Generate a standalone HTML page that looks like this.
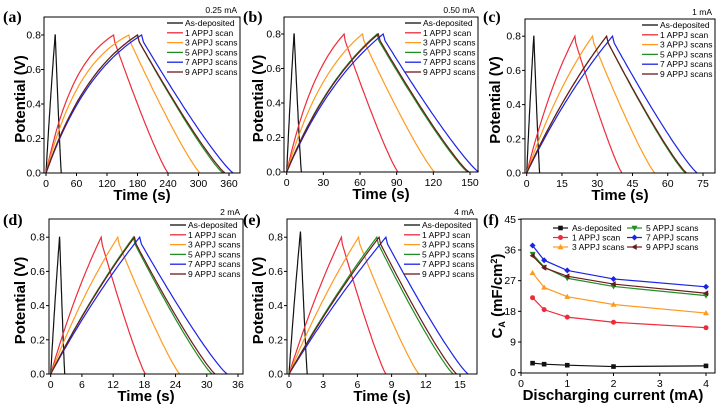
<!DOCTYPE html>
<html><head><meta charset="utf-8">
<style>
html,body{margin:0;padding:0;background:#fff;}
svg{display:block;font-family:"Liberation Sans",Arial,sans-serif;}
.tick{font-size:10.5px;fill:#000;}
.ttl{font-size:15px;font-weight:bold;fill:#000;}
.leg{font-size:8.5px;fill:#000;}
.plab{font-family:"Liberation Serif",serif;font-size:16px;font-weight:bold;}
</style></head>
<body>
<svg id="fig" width="727" height="412" viewBox="0 0 727 412" xmlns="http://www.w3.org/2000/svg"></svg>
<script>
// ---- data ----
const seriesNames = ["As-deposited","1 APPJ scan","3 APPJ scans","5 APPJ scans","7 APPJ scans","9 APPJ scans"];
const seriesColors = ["#111111","#ee2b3b","#ff9a1f","#1f8f24","#1c22e6","#6e1a1a"];
const currentLabels = ["0.25 mA","0.50 mA","1 mA","2 mA","4 mA"];
// charge end times (peak) per panel per series
const peakA = [18,133,163,180,188,180];
const endA  = [30,240,303,348,368,352];
const peakB = [6,47,62,74,79,75];
const endB  = [12,91,121,148,157,149];
const peakC = [3,20.5,28,34,36.5,34];
const endC  = [5.5,40.5,54.5,67.5,72.5,68];
const peakD = [1.7,9.7,12.9,15.9,17.1,16.1];
const endD  = [2.7,18.2,24.8,31,33.9,31.6];
const peakE = [1.0,4.6,6.1,7.7,8.5,7.9];
const endE  = [1.6,8.5,11.4,14.4,15.7,14.7];
const peakV = [0.8,0.8,0.8,0.8,0.8,0.8];
const peakVE = [0.83,0.8,0.8,0.8,0.8,0.8];
const xTicksA = [0,60,120,180,240,300,360];
const xTicksB = [0,30,60,90,120,150];
const xTicksC = [0,15,30,45,60,75];
const xTicksD = [0,6,12,18,24,30,36];
const xTicksE = [0,3,6,9,12,15];
const yTicksV = [0.0,0.2,0.4,0.6,0.8];
// panel f
const currents = [0.25,0.5,1,2,4];
const capAsDep = [2.8,2.5,2.2,1.8,2.0];
const cap1 = [22,18.5,16.3,14.8,13.2];
const cap3 = [29.3,25,22.3,20,17.5];
const cap5 = [34.8,31,27.7,25.3,22.6];
const cap7 = [37.3,33,30,27.5,25.2];
const cap9 = [34.3,30.8,28.3,26,23.3];
const xTicksF = [0,1,2,3,4];
const yTicksF = [0,9,18,27,36,45];

const NS="http://www.w3.org/2000/svg";
const svg=document.getElementById('fig');
function mk(tag,attrs,parent){const e=document.createElementNS(NS,tag);for(const k in attrs)e.setAttribute(k,attrs[k]);(parent||svg).appendChild(e);return e;}

const panels=[
 {lab:"(a)",cur:0,peak:peakA,end:endA,pv:peakV,xt:xTicksA,L:44,T:17,R:240,B:173,x0:46,sx:183/360,y0:173,sy:172.5,k:2.0,ytx:20,ylr:41,labx:3,laby:22},
 {lab:"(b)",cur:1,peak:peakB,end:endB,pv:peakV,xt:xTicksB,L:284,T:17,R:478,B:172,x0:286.7,sx:183.3/150,y0:172,sy:172.5,k:1.4,ytx:258,ylr:281,labx:243,laby:22},
 {lab:"(c)",cur:2,peak:peakC,end:endC,pv:peakV,xt:xTicksC,L:525,T:19,R:715,B:173,x0:526.7,sx:176.3/75,y0:173,sy:171,k:0.7,ytx:495,ylr:521,labx:483,laby:22},
 {lab:"(d)",cur:3,peak:peakD,end:endD,pv:peakV,xt:xTicksD,L:49,T:219,R:243,B:374,x0:50.7,sx:187.3/36,y0:374,sy:171,k:0.5,ytx:20,ylr:45,labx:3,laby:225},
 {lab:"(e)",cur:4,peak:peakE,end:endE,pv:peakVE,xt:xTicksE,L:287,T:219,R:477,B:374,x0:289,sx:171/15,y0:374,sy:171,k:0.4,ytx:258,ylr:283,labx:243,laby:225}
];

panels.forEach((p,pi)=>{
  const g=mk('g',{});
  
  
  const X=t=>p.x0+t*p.sx, Y=v=>p.y0-v*p.sy;
  p.peak.forEach((tc,si)=>{
    const td=p.end[si], vp=p.pv[si];
    const k = si===0?0.3:p.k*(si>=3?0.75:1);
    let pts=[];
    for(let i=0;i<=40;i++){const u=i/40;const f=(1-Math.exp(-k*u))/(1-Math.exp(-k));pts.push([tc*u,vp*f]);}
    const drop=si===0?0:0.04;
    pts.push([tc+(td-tc)*0.02,vp-drop]);
    for(let i=1;i<=40;i++){const s=0.02+0.98*i/40;pts.push([tc+(td-tc)*s,(vp-drop)*Math.pow((1-s)/0.98,1.15)]);}
    const path=mk('polyline',{points:pts.map(q=>X(q[0]).toFixed(1)+','+Y(q[1]).toFixed(1)).join(' '),fill:'none',stroke:seriesColors[si],'stroke-width':1.2},g);
    
    
  });
  const fr=mk('rect',{x:p.L,y:p.T,width:p.R-p.L,height:p.B-p.T,fill:'none',stroke:'#000','stroke-width':1},g);
  
  
  p.xt.forEach(t=>{
    mk('line',{x1:X(t),x2:X(t),y1:p.B,y2:p.B+3,stroke:'#000'},g);
    const tx=mk('text',{x:X(t),y:p.B+14,'text-anchor':'middle',class:'tick'},g);tx.textContent=t;
    
    
  });
  yTicksV.forEach(v=>{
    mk('line',{x1:p.L-3,x2:p.L,y1:Y(v),y2:Y(v),stroke:'#000'},g);
    const tx=mk('text',{x:p.ylr,y:Y(v)+3.5,'text-anchor':'end',class:'tick'},g);tx.textContent=v.toFixed(1);
    
    
  });
  const xt=mk('text',{x:(p.L+p.R)/2,y:p.B+27,'text-anchor':'middle',class:'ttl'},g);xt.textContent='Time (s)';
  
  
  const cy=(p.T+p.B)/2+4;
  const yt=mk('text',{x:p.ytx+5,y:cy,'text-anchor':'middle',class:'ttl',transform:`rotate(-90 ${p.ytx+5} ${cy})`},g);yt.textContent='Potential (V)';
  
  
  const pl=mk('text',{x:p.labx,y:p.laby,class:'plab'},g);pl.textContent=p.lab;
  
  
  const cl=mk('text',{x:p.R-3,y:p.T-4,'text-anchor':'end',class:'leg'},g);cl.textContent=currentLabels[p.cur];
  
  
  seriesNames.forEach((n,si)=>{
    const ly=p.T+6+si*9.8;
    const le=mk('g',{},g);
    
    
    mk('line',{x1:p.R-73,x2:p.R-57,y1:ly,y2:ly,stroke:seriesColors[si],'stroke-width':1.3},le);
    const t=mk('text',{x:p.R-55,y:ly+3,class:'leg'},le);t.textContent=n;
  });
});

// ---- panel f ----
(function(){
  const L=521,T=219,R=715,B=373;
  const g=mk('g',{});
  
  
  const X=c=>521+c*(185/4), Y=v=>372.7-v*(153.4/45);
  const caps=[capAsDep,cap1,cap3,cap5,cap7,cap9];
  function marker(si,x,y,par){
    const c=seriesColors[si];let m;
    if(si===0) m=mk('rect',{x:x-2.3,y:y-2.3,width:4.6,height:4.6,fill:c},par);
    else if(si===1) m=mk('circle',{cx:x,cy:y,r:2.5,fill:c},par);
    else if(si===2) m=mk('polygon',{points:`${x},${y-3} ${x-3},${y+2.2} ${x+3},${y+2.2}`,fill:c},par);
    else if(si===3) m=mk('polygon',{points:`${x},${y+3} ${x-3},${y-2.2} ${x+3},${y-2.2}`,fill:c},par);
    else if(si===4) m=mk('polygon',{points:`${x},${y-3} ${x+3},${y} ${x},${y+3} ${x-3},${y}`,fill:c},par);
    else m=mk('polygon',{points:`${x-3},${y} ${x+2.2},${y-3} ${x+2.2},${y+3}`,fill:c},par);
    return m;
  }
  caps.forEach((arr,si)=>{
    const s=mk('g',{},g);
    
    
    mk('polyline',{points:arr.map((v,i)=>X(currents[i])+','+Y(v)).join(' '),fill:'none',stroke:seriesColors[si],'stroke-width':1.2},s);
    arr.forEach((v,i)=>{const m=marker(si,X(currents[i]),Y(v),s);
      
      });
  });
  const fr=mk('rect',{x:L,y:T,width:R-L,height:B-T,fill:'none',stroke:'#000'},g);
  
  
  xTicksF.forEach(c=>{
    mk('line',{x1:X(c),x2:X(c),y1:B,y2:B+3,stroke:'#000'},g);
    const t=mk('text',{x:X(c),y:B+14,'text-anchor':'middle',class:'tick'},g);t.textContent=c;
    
    
  });
  yTicksF.forEach(v=>{
    mk('line',{x1:L-3,x2:L,y1:Y(v),y2:Y(v),stroke:'#000'},g);
    const t=mk('text',{x:L-5,y:Y(v)+3.5,'text-anchor':'end',class:'tick'},g);t.textContent=v;
    
    
  });
  const xt=mk('text',{x:613,y:400,'text-anchor':'middle',class:'ttl'},g);xt.textContent='Discharging current (mA)';
  
  
  const yt=mk('text',{x:502,y:296,'text-anchor':'middle',class:'ttl',transform:'rotate(-90 502 296)'},g);
  yt.innerHTML='C<tspan font-size="9" dy="3">A</tspan><tspan dy="-3"> (mF/cm</tspan><tspan font-size="9" dy="-5">2</tspan><tspan dy="5">)</tspan>';
  
  
  const pl=mk('text',{x:483,y:225,class:'plab'},g);pl.textContent='(f)';
  
  
  const order=[[0,553,228],[1,553,237.5],[2,553,247],[3,627,228],[4,627,237.5],[5,627,247]];
  order.forEach(o=>{
    const le=mk('g',{},g);
    
    
    mk('line',{x1:o[1],x2:o[1]+15,y1:o[2],y2:o[2],stroke:seriesColors[o[0]],'stroke-width':1.2},le);
    marker(o[0],o[1]+7.5,o[2],le);
    const t=mk('text',{x:o[1]+19,y:o[2]+3,class:'leg'},le);t.textContent=seriesNames[o[0]];
  });
})();
</script>
</body></html>
